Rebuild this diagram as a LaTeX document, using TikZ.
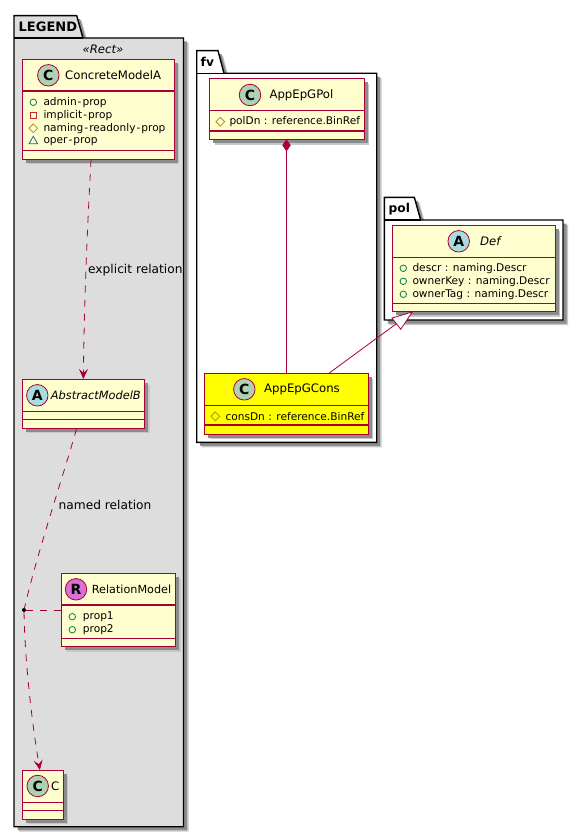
\documentclass[tikz,border=0pt]{standalone}
\usepackage{fontspec}
\setmainfont{DejaVu Sans}
\usetikzlibrary{shapes.geometric, arrows.meta, shadows}

\definecolor{umlborder}{HTML}{A80036}
\definecolor{umlfill}{HTML}{FEFECE}
\definecolor{spotC}{HTML}{ADD1B2}
\definecolor{spotA}{HTML}{A9DCDF}
\definecolor{spotR}{HTML}{DA70D6}
\definecolor{legendbg}{HTML}{DDDDDD}
\definecolor{consfill}{HTML}{FFFF00}
\definecolor{visgreen}{HTML}{038048}
\definecolor{visred}{HTML}{C82930}
\definecolor{visgold}{HTML}{B38D22}
\definecolor{visblue}{HTML}{1963A0}

\newcommand{\hy}{\kern1pt-\kern1pt}

\tikzset{
    softshadow/.style={
        drop shadow={shadow xshift=5pt, shadow yshift=-5pt, fill=black!22, opacity=1},
        drop shadow={shadow xshift=3.5pt, shadow yshift=-3.5pt, fill=black!45, opacity=1}},
    classbox/.style={draw=umlborder, line width=1.1pt, fill=umlfill, anchor=north west, inner sep=0pt, softshadow},
    classline/.style={draw=umlborder, line width=1.1pt},
    spot/.style={circle, draw=umlborder, line width=0.8pt, minimum size=21.5pt, inner sep=0pt, font=\fontsize{14}{14}\selectfont\bfseries},
    title/.style={anchor=west, inner sep=0pt, font=\fontsize{11.7}{14}\selectfont},
    member/.style={anchor=west, inner sep=0pt, font=\fontsize{10.6}{12}\selectfont},
    pkglabel/.style={anchor=west, inner sep=0pt, font=\fontsize{12.2}{14}\selectfont\bfseries},
    rellabel/.style={anchor=west, inner sep=0pt, font=\fontsize{12.2}{14}\selectfont},
    pkg/.style={draw=black, line width=1.4pt, softshadow},
    relline/.style={draw=umlborder, line width=0.8pt},
    reldash/.style={relline, dash pattern=on 7pt off 7pt},
    openarrow/.style={-{Stealth[length=10pt, width=9pt, inset=4pt, umlborder]}},
    iconpub/.style={circle, draw=visgreen, line width=0.8pt, minimum size=6.5pt, inner sep=0pt},
    iconpriv/.style={rectangle, draw=visred, line width=0.8pt, minimum size=6.5pt, inner sep=0pt},
    iconprot/.style={diamond, draw=visgold, line width=0.8pt, minimum size=9pt, inner sep=0pt},
    iconpack/.style={regular polygon, regular polygon sides=3, draw=visblue, line width=0.8pt, minimum size=10pt, inner sep=0pt},
}

\begin{document}
\begin{tikzpicture}[x=1pt, y=-1pt]
    \useasboundingbox (0,0) rectangle (583,837);

    % Package LEGEND
    \draw[pkg, fill=legendbg] (14,38) -- (14,15.7) -- (76.7,15.7) -- (83,38) -- (183.5,38) -- (183.5,826.7) -- (14,826.7) -- cycle;
    \draw[line width=1.4pt] (14,38) -- (83,38);
    \node[pkglabel, font=\fontsize{13}{14}\selectfont\bfseries] (legendLabel) at (18.5,27) {LEGEND};
    \node[anchor=center, inner sep=0pt, font=\fontsize{11.7}{14}\selectfont\itshape] (rectStereo) at (103,49.5) {«Rect»};

    % Package fv
    \draw[pkg, fill=white] (196.7,73.3) -- (196.7,50.7) -- (218,50.7) -- (224,73.3) -- (376.7,73.3) -- (376.7,442.3) -- (196.7,442.3) -- cycle;
    \draw[line width=1.4pt] (196.7,73.3) -- (224,73.3);
    \node[pkglabel] (fvLabel) at (200.5,62) {fv};

    % Package pol
    \draw[pkg, fill=white] (384.3,220) -- (384.3,197.3) -- (414.3,197.3) -- (420.7,220) -- (563,220) -- (563,320) -- (384.3,320) -- cycle;
    \draw[line width=1.4pt] (384.3,220) -- (420.7,220);
    \node[pkglabel] (polLabel) at (388.5,209) {pol};

    % ConcreteModelA
    \node[classbox, minimum width=151.4pt, minimum height=99.4pt] (concreteA) at (22.3,59.3) {};
    \draw[classline] (22.3,91) -- (173.7,91);
    \draw[classline] (22.3,150.7) -- (173.7,150.7);
    \node[spot, fill=spotC] (concreteSpot) at (48.3,75.3) {C};
    \node[title] (concreteTitle) at (65,75.3) {ConcreteModelA};
    \node[iconpub] (adminIcon) at (33.3,102.3) {};
    \node[member] (adminProp) at (43.3,102.3) {admin\hy prop};
    \node[iconpriv] (implicitIcon) at (33.3,115.3) {};
    \node[member] (implicitProp) at (43.3,115.3) {implicit\hy prop};
    \node[iconprot] (namingIcon) at (33.3,128.3) {};
    \node[member] (namingProp) at (43.3,128.3) {naming\hy readonly\hy prop};
    \node[iconpack] (operIcon) at (33.3,141.3) {};
    \node[member] (operProp) at (43.3,141.3) {oper\hy prop};

    % AbstractModelB
    \node[classbox, minimum width=122pt, minimum height=48.7pt] (abstractB) at (22.3,379) {};
    \draw[classline] (22.3,411.3) -- (144.3,411.3);
    \draw[classline] (22.3,419.3) -- (144.3,419.3);
    \node[spot, fill=spotA] (abstractSpot) at (37.3,395.3) {A};
    \node[title, font=\fontsize{11.4}{14}\selectfont\itshape] (abstractTitle) at (50.7,395.3) {AbstractModelB};

    % RelationModel
    \node[classbox, minimum width=114pt, minimum height=73pt] (relationModel) at (61,573.3) {};
    \draw[classline] (61,605) -- (175,605);
    \draw[classline] (61,638.3) -- (175,638.3);
    \node[spot, fill=spotR] (relationSpot) at (76,589.3) {R};
    \node[title, font=\fontsize{11.2}{14}\selectfont] (relationTitle) at (91.7,589.3) {RelationModel};
    \node[iconpub] (prop1Icon) at (72.3,616.7) {};
    \node[member] (prop1) at (82.7,616.7) {prop1};
    \node[iconpub] (prop2Icon) at (72.3,629.7) {};
    \node[member] (prop2) at (82.7,629.7) {prop2};

    % C
    \node[classbox, minimum width=40.4pt, minimum height=48.7pt] (classC) at (22.3,770) {};
    \draw[classline] (22.3,802.3) -- (62.7,802.3);
    \draw[classline] (22.3,810.3) -- (62.7,810.3);
    \node[spot, fill=spotC] (classCSpot) at (37.7,786) {C};
    \node[title] (classCTitle) at (51,786) {C};

    % AppEpGPol
    \node[classbox, minimum width=154.4pt, minimum height=61pt] (appPol) at (209.3,78.3) {};
    \draw[classline] (209.3,110.7) -- (363.7,110.7);
    \draw[classline] (209.3,131) -- (363.7,131);
    \node[spot, fill=spotC] (appPolSpot) at (250,95) {C};
    \node[title] (appPolTitle) at (269.3,95) {AppEpGPol};
    \node[iconprot] (polDnIcon) at (220.3,121.7) {};
    \node[member] (polDn) at (229.3,121.7) {polDn : reference.BinRef};

    % AppEpGCons (highlighted)
    \node[classbox, fill=consfill, minimum width=163.7pt, minimum height=60.4pt] (appCons) at (204,373.3) {};
    \draw[classline] (204,405.7) -- (367.7,405.7);
    \draw[classline] (204,425) -- (367.7,425);
    \node[spot, fill=spotC] (appConsSpot) at (244.3,389.3) {C};
    \node[title] (appConsTitle) at (264,389.3) {AppEpGCons};
    \node[iconprot] (consDnIcon) at (215.3,416.3) {};
    \node[member] (consDn) at (225.3,416.3) {consDn : reference.BinRef};

    % Def
    \node[classbox, minimum width=162.4pt, minimum height=86pt] (polDef) at (392.3,225) {};
    \draw[classline] (392.3,257.3) -- (554.7,257.3);
    \draw[classline] (392.3,303.3) -- (554.7,303.3);
    \node[spot, fill=spotA] (defSpot) at (458.7,241.3) {A};
    \node[title, font=\fontsize{11.7}{14}\selectfont\itshape] (defTitle) at (480,241.3) {Def};
    \node[iconpub] (descrIcon) at (403.3,268.3) {};
    \node[member] (descr) at (412.3,268.3) {descr : naming.Descr};
    \node[iconpub] (ownerKeyIcon) at (403.3,281.3) {};
    \node[member] (ownerKey) at (412.3,281.3) {ownerKey : naming.Descr};
    \node[iconpub] (ownerTagIcon) at (403.3,294.3) {};
    \node[member] (ownerTag) at (412.3,294.3) {ownerTag : naming.Descr};

    % Relations in LEGEND
    \draw[reldash, openarrow] ([xshift=-7.5pt]concreteA.south) .. controls (86,250) and (84,320) .. ([xshift=-0.5pt]abstractB.north);
    \node[rellabel] (explicitLabel) at (88,270) {explicit relation};
    \node[circle, fill=black, minimum size=4pt, inner sep=0pt] (relDot) at (24,610) {};
    \draw[reldash] ([xshift=-7.3pt]abstractB.south) .. controls (62,480) and (38,550) .. (relDot);
    \draw[reldash, openarrow] (relDot) .. controls (25,670) and (34,735) .. ([xshift=-3.2pt]classC.north);
    \draw[reldash] (relDot) -- (relDot -| relationModel.west);
    \node[rellabel] (namedLabel) at (58.5,504.7) {named relation};

    % Composition AppEpGPol to AppEpGCons
    \node[diamond, draw=umlborder, fill=umlborder, minimum width=8pt, minimum height=11.5pt, inner sep=0pt] (polDiamond) at (286.5,145.3) {};
    \draw[relline] (polDiamond.south) -- (polDiamond.south |- appCons.north);

    % Generalization AppEpGCons to Def
    \coordinate (defTip) at (412.3,312);
    \draw[relline] ([xshift=42.5pt]appCons.north) -- (396.4,323.7);
    \draw[relline, fill=white, line join=miter] (defTip) -- (392,318) -- (400.7,329.3) -- cycle;
\end{tikzpicture}
\end{document}
